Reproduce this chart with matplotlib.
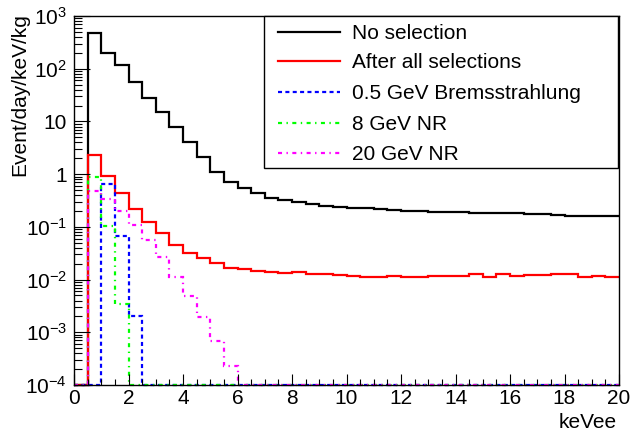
import numpy as np
import matplotlib
matplotlib.use("Agg")
import matplotlib.pyplot as plt
from matplotlib.ticker import FixedLocator, LogLocator, FuncFormatter, NullFormatter
from matplotlib.lines import Line2D
from matplotlib.patches import Rectangle

plt.rcParams['font.family'] = ['Liberation Sans', 'DejaVu Sans']
plt.rcParams['mathtext.fontset'] = 'custom'
plt.rcParams['mathtext.rm'] = 'Liberation Sans'
plt.rcParams['mathtext.it'] = 'Liberation Sans:italic'
plt.rcParams['mathtext.bf'] = 'Liberation Sans:bold'
plt.rcParams['lines.scale_dashes'] = False

# ---------------- data (40 bins of 0.5 keVee, 0 to 20) ----------------
bin_edges = np.arange(0, 20.01, 0.5)

no_selection = [0, 469, 201, 116, 56.7, 27.8, 15.3, 7.94, 4.01, 2.09,
                1.11, 0.718, 0.538, 0.433, 0.357, 0.323, 0.296, 0.271, 0.252, 0.241,
                0.231, 0.225, 0.215, 0.206, 0.202, 0.197, 0.194, 0.191, 0.189, 0.186,
                0.183, 0.181, 0.181, 0.178, 0.173, 0.170, 0.163, 0.163, 0.161, 0.158]

after_all = [0, 2.31, 0.922, 0.445, 0.221, 0.125, 0.0754, 0.0452, 0.0315, 0.0253,
             0.0203, 0.0168, 0.0156, 0.0147, 0.0141, 0.0131, 0.0139, 0.0129, 0.0129, 0.0124,
             0.0117, 0.0113, 0.0113, 0.0117, 0.0113, 0.0113, 0.0115, 0.0117, 0.0117, 0.0126,
             0.0113, 0.0126, 0.0118, 0.0122, 0.0124, 0.0126, 0.0126, 0.0112, 0.0117, 0.0113]

brems_05GeV = [0, 0, 0.641, 0.067, 0.00206] + [0] * 35

nr_8GeV = [0, 0.871, 0.104, 0.00344] + [0] * 36

nr_20GeV = [0, 0.479, 0.337, 0.200, 0.108, 0.0563, 0.0272, 0.0113, 0.00488, 0.00197,
            0.000692, 0.000229] + [0] * 28

labels = ["No selection", "After all selections", "0.5 GeV Bremsstrahlung",
          "8 GeV NR", "20 GeV NR"]

x_ticks = list(range(0, 21, 2))
x_minor = list(np.arange(0, 20.01, 0.5))
y_min, y_max = 1e-4, 1e3
x_label = "keVee"
y_label = "Event/day/keV/kg"

series = [no_selection, after_all, brems_05GeV, nr_8GeV, nr_20GeV]
colors = ["#000000", "#ff0000", "#0000ff", "#00ff00", "#ff00ff"]
styles = ["-", "-", (0, (2.9, 2.4)), (0, (2.9, 3.2, 1.0, 3.2)), (0, (2.9, 3.2, 1.0, 3.2))]
lw = 1.6

# ---------------- figure ----------------
W, H = 631, 434
fig = plt.figure(figsize=(W / 100, H / 100), dpi=100)
L, R, T, B = 74, 619, 16, 385
ax = fig.add_axes([L / W, 1 - B / H, (R - L) / W, (B - T) / H])

for vals, c, ls in zip(series, colors, styles):
    v = np.asarray(vals, dtype=float)
    v = np.where(v > 0, v, y_min)
    ax.stairs(v, bin_edges, baseline=None, color=c, linestyle=ls, linewidth=lw,
              clip_on=False)

ax.set_yscale('log')
ax.set_xlim(0, 20)
ax.set_ylim(y_min, y_max)

ax.xaxis.set_major_locator(FixedLocator(x_ticks))
ax.xaxis.set_minor_locator(FixedLocator(x_minor))
ax.yaxis.set_major_locator(LogLocator(base=10, numticks=20))
ax.yaxis.set_minor_locator(LogLocator(base=10, subs=np.arange(2, 10), numticks=20))
ax.yaxis.set_minor_formatter(NullFormatter())


def yfmt(val, pos):
    e = int(round(np.log10(val)))
    if e == 0:
        return "1"
    if e == 1:
        return "10"
    return r"$\mathregular{10^{%d}}$" % e


ax.yaxis.set_major_formatter(FuncFormatter(yfmt))

fs = 15
ax.tick_params(axis='both', which='both', direction='in', top=False, right=False,
               width=0.8, labelsize=fs)
ax.tick_params(axis='x', which='major', length=7.9, pad=3)
ax.tick_params(axis='x', which='minor', length=4.0)
ax.tick_params(axis='y', which='major', length=11.5, pad=5)
ax.tick_params(axis='y', which='minor', length=5.8)
for sp in ax.spines.values():
    sp.set_linewidth(1.0)

fig.text(20 / W, 1 - 13 / H, y_label, rotation=90, ha='center', va='top', fontsize=fs)
fig.text(617 / W, 1 - 423 / H, x_label, ha='right', va='center', fontsize=fs)

# ---------------- legend ----------------
def fx(px):
    return (px - L) / (R - L)


def fy(py):
    return (B - py) / (B - T)


ax.add_patch(Rectangle((fx(264), fy(168)), fx(618) - fx(264), fy(16) - fy(168),
                       transform=ax.transAxes, facecolor='white', edgecolor='black',
                       linewidth=1.0, zorder=5, clip_on=False))
row_y = [31.7, 60.7, 91.7, 123, 153]
for lab, c, ls, yy in zip(labels, colors, styles, row_y):
    ax.add_line(Line2D([fx(278), fx(340)], [fy(yy), fy(yy)], transform=ax.transAxes,
                       color=c, linestyle=ls, linewidth=lw, zorder=6, clip_on=False))
    ax.text(fx(352.5), fy(yy), lab, transform=ax.transAxes, ha='left', va='center_baseline',
            fontsize=fs, zorder=6)

fig.savefig("out.png", dpi=100)
